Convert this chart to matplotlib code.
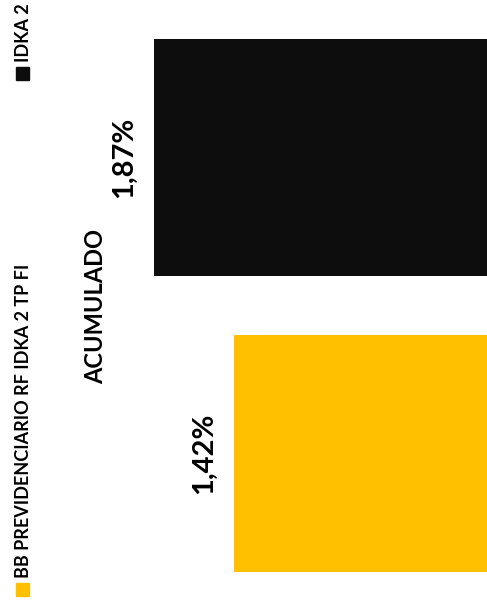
import matplotlib
matplotlib.use("Agg")
import matplotlib.pyplot as plt
from matplotlib.patches import Rectangle

# accumulated return, rotated bar chart
series = ["IDKA 2", "BB PREVIDENCIARIO RF IDKA 2 TP FI"]
values = [1.87, 1.42]
labels = ["1,87%", "1,42%"]
colors = ["#0d0d0d", "#ffc000"]
category = "ACUMULADO"

plt.rcParams["font.family"] = ["Lato", "DejaVu Sans"]

fig = plt.figure(figsize=(4.87, 6.09), dpi=100)
ax = fig.add_axes([0, 0.0123, 1, 0.972])

pos = list(range(len(values)))
bars = ax.barh(pos, values, height=0.8, color=colors)
ax.set_xlim(2.735, 0)
ax.set_ylim(1.5, -0.5)
ax.axis("off")

for b, lab in zip(bars, labels):
    ax.annotate(lab, (b.get_width(), b.get_y() + b.get_height() / 2),
                xytext=(-12, 0), textcoords="offset points",
                rotation=90, ha="right", va="center",
                fontsize=21, fontweight="bold", color="#000000")

fig.text(0.197, 0.497, category, rotation=90, ha="center", va="center",
         fontsize=17, fontweight="bold", color="#000000")

# legend drawn sideways along the left edge
legend_y = [0.869, 0.022]
for name, col, y0 in zip(series, colors, legend_y):
    fig.patches.append(Rectangle((0.033, y0), 13 / 487, 13 / 609,
                                 transform=fig.transFigure, color=col))
    fig.text(0.049, y0 + 18 / 609, name, rotation=90, ha="center", va="bottom",
             fontsize=13, fontweight="bold", color="#000000")

fig.savefig("out.png", dpi=100, facecolor="white")
